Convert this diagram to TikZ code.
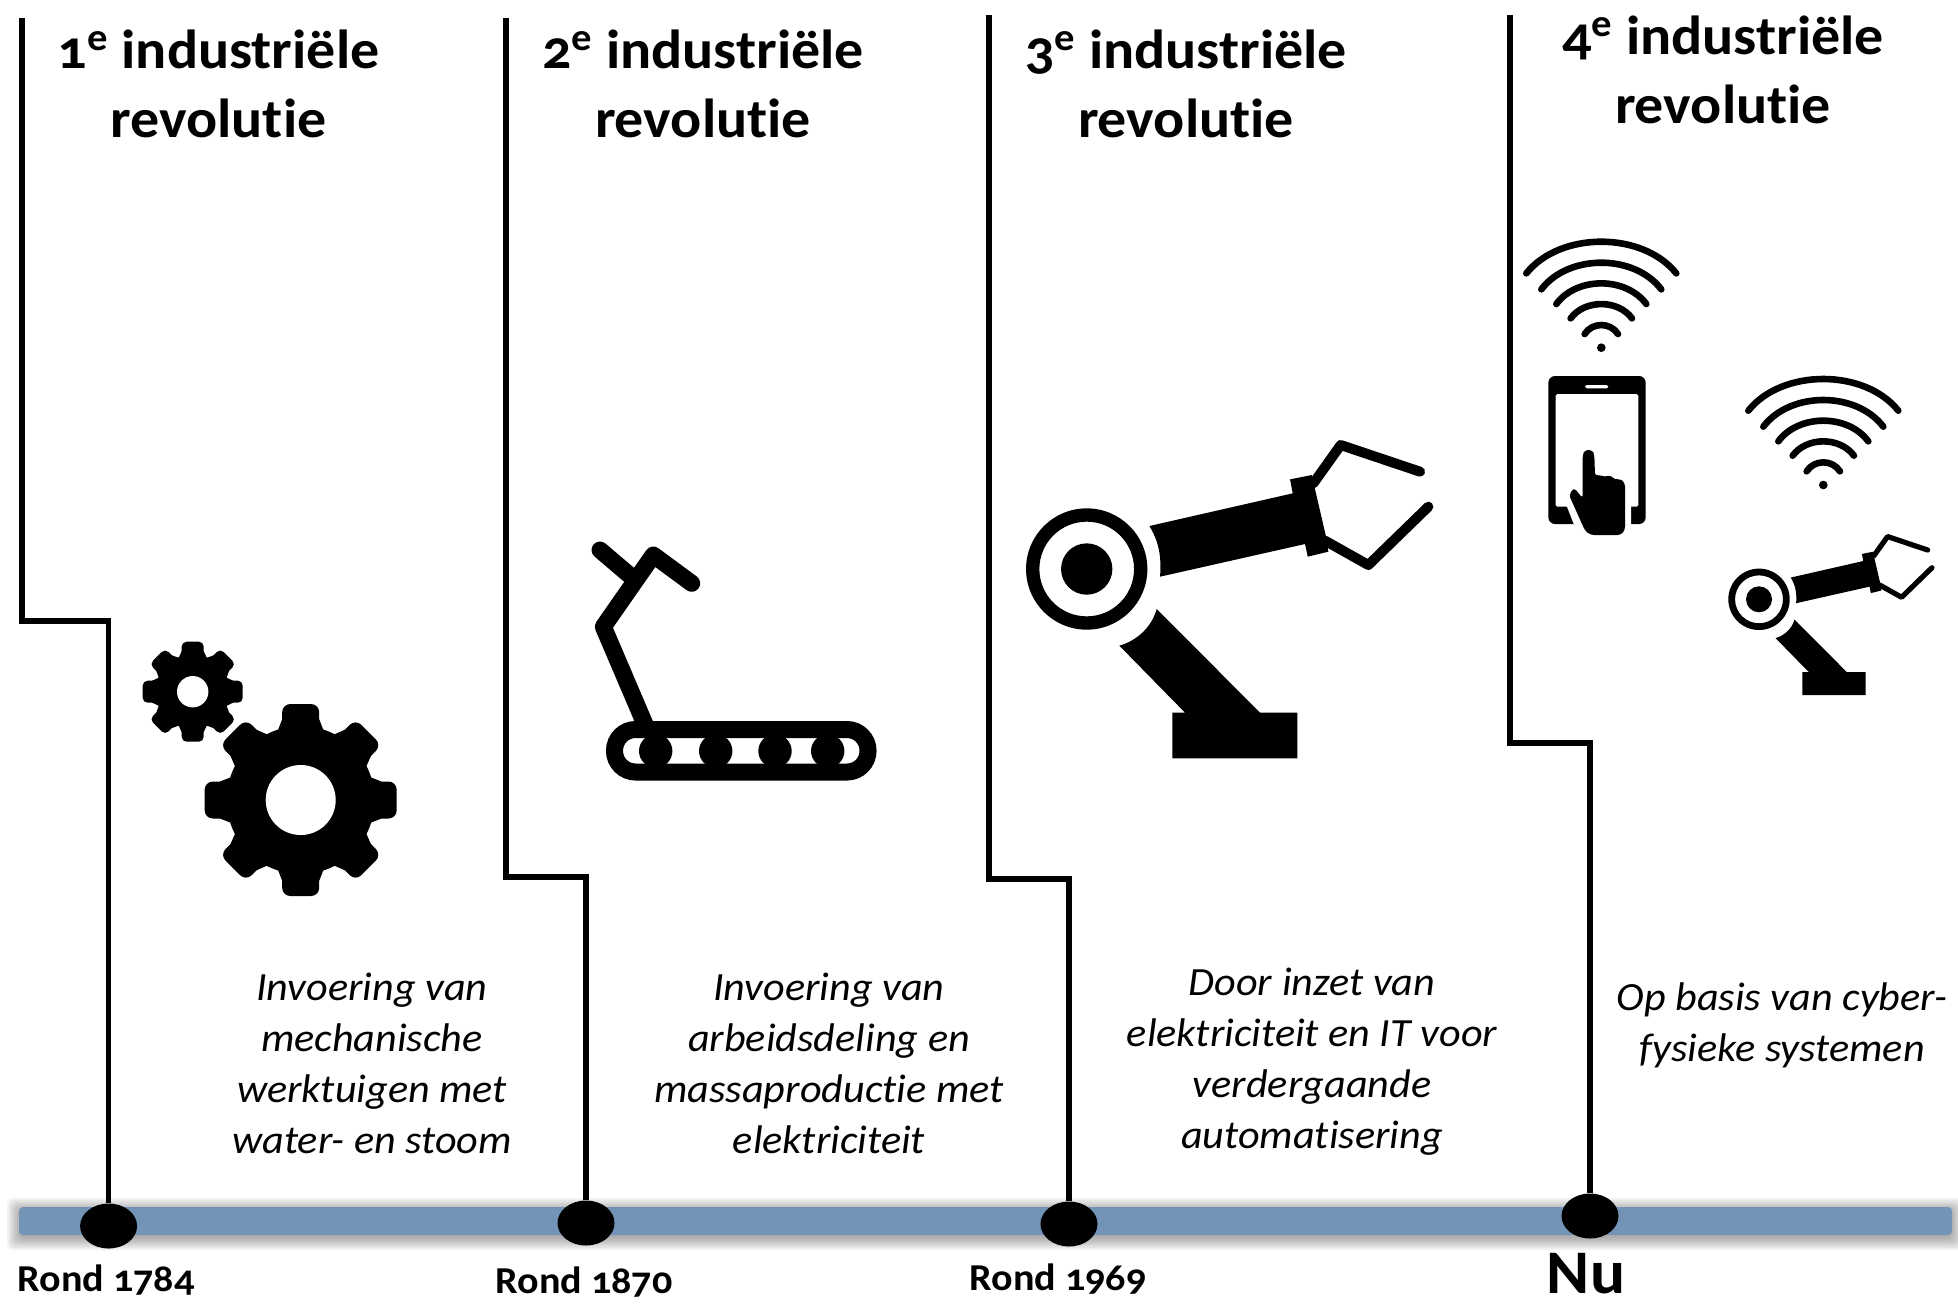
\documentclass[tikz,border=0pt]{standalone}
\usepackage{fontspec}
\setmainfont[Numbers=OldStyle,Ligatures={TeX,NoCommon},FakeStretch=1.055]{Carlito}
\definecolor{barblue}{HTML}{7393B7}
\tikzset{
  titletext/.style={inner sep=0pt,align=center,font=\fontsize{27.5}{34.3}\selectfont\bfseries},
  bodytext/.style={inner sep=0pt,align=center,font=\fontsize{20}{25.5}\selectfont\itshape},
  datetext/.style={inner sep=0pt,font=\fontsize{19}{22}\selectfont\bfseries},
  nowtext/.style={inner sep=0pt,font=\fontsize{31}{36}\selectfont\bfseries},
  stepline/.style={draw=black,line width=2.75pt,line join=miter},
  dotmark/.style={ellipse,fill=black,draw=none,minimum width=28.5pt,minimum height=22.5pt,inner sep=0pt},
}
\usetikzlibrary{shapes.geometric}
% gear: x y outer root toothwidth hole
\newcommand{\mygear}[6]{%
  \begin{scope}[shift={(#1,#2)}]
    \fill[black] (0,0) circle[radius=#4];
    \foreach \a in {0,45,...,315}{
      \begin{scope}[rotate=\a]
        \fill[black,rounded corners=#5*0.11pt] (-#5/2,-#3) rectangle (#5/2,0);
        \fill[black] (-#5*0.65,-#4*0.9) -- (#5*0.65,-#4*0.9) -- (#5/2,-#4-#3*0.07) -- (-#5/2,-#4-#3*0.07) -- cycle;
      \end{scope}
    }
    \fill[white] (0,0) circle[radius=#6];
  \end{scope}}
% robot: x y scale gripperwidth
\newcommand{\myrobot}[4]{%
  \begin{scope}[shift={(#1,#2)},scale=#3]
    \fill[black,even odd rule] (0,0) circle[radius=182] (0,0) circle[radius=142];
    \fill[black] (0,0) circle[radius=77];
    \fill[black] (188,-129) -- (618,-227) -- (610,-269) -- (675,-282) -- (718,-97) -- (725,-52) -- (663,-37) -- (655,-75) -- (220,23) .. controls (225,-40) and (215,-85) .. cycle;
    \fill[black] (210,120) -- (520,431) -- (632,431) -- (632,568) -- (257,568) -- (257,431) -- (295,431) -- (98,230) .. controls (150,215) and (195,175) .. cycle;
    \draw[black,line width=#4,line cap=round,line join=round] (680,-257) -- (762,-372) -- (1000,-292);
    \draw[black,line width=#4,line cap=round,line join=round] (715,-85) -- (845,-12) -- (1025,-187);
  \end{scope}}
% wifi: x y of the dot, in reference pixels
\newcommand{\mywifi}[2]{%
  \begin{scope}[shift={(#1,#2)},scale=1/3]
    \fill[black] (0,0) circle[radius=13];
    \foreach \aa/\cc/\yo/\yc in {225/124/-223/-349.7,180/99/-175/-281.7,135/74/-131/-213.7,92/50/-88/-145.3,50/27/-41/-77}{
      \draw[black,line width=3.3pt,line cap=round] (-\aa,\yo) .. controls (-\cc,\yc) and (\cc,\yc) .. (\aa,\yo);
    }
  \end{scope}}
\begin{document}
\begin{tikzpicture}[x=0.5pt,y=-0.5pt]
\useasboundingbox (0,0) rectangle (1958,1303);
\fill[white] (0,0) rectangle (1958,1303);
% bar with its soft shadow
\foreach \e in {12,10,8,6,4,2,0}{
  \fill[black,opacity=0.05,rounded corners=3pt] (19-\e,1207+3-\e) rectangle (1952+\e,1235+3+\e);
}
\fill[barblue,rounded corners=2pt] (19,1207) rectangle (1952,1235);
% dots
\node[dotmark] (d1) at (108.6,1226) {};
\node[dotmark] (d2) at (586,1223) {};
\node[dotmark] (d3) at (1069,1224) {};
\node[dotmark] (d4) at (1590,1216) {};
% stepped lines
\coordinate (t1) at (22,18);  \coordinate (f1) at (108.6,621);
\coordinate (t2) at (506,18); \coordinate (f2) at (586,877);
\coordinate (t3) at (989,15); \coordinate (f3) at (1069,879);
\coordinate (t4) at (1510,15);\coordinate (f4) at (1590,743);
\draw[stepline] (t1) |- (f1) -- (d1);
\draw[stepline] (t2) |- (f2) -- (d2);
\draw[stepline] (t3) |- (f3) -- (d3);
\draw[stepline] (t4) |- (f4) -- (d4);
% titles
\node[titletext] (title1) at (218.5,84) {1\textsuperscript{e} industriële\\revolutie};
\node[titletext] (title2) at (703,84) {2\textsuperscript{e} industriële\\revolutie};
\node[titletext] (title3) at (1186,84) {3\textsuperscript{e} industriële\\revolutie};
\node[titletext] (title4) at (1723,70) {4\textsuperscript{e} industriële\\revolutie};
% descriptions
\node[bodytext] (body1) at (372,1063) {Invoering van\\mechanische\\werktuigen met\\water- en stoom};
\node[bodytext] (body2) at (829,1063) {Invoering van\\arbeidsdeling en\\massaproductie met\\elektriciteit};
\node[bodytext] (body3) at (1312,1062) {Door inzet van\\elektriciteit en IT voor\\verdergaande\\automatisering};
\node[bodytext] (body4) at (1782,1025) {Op basis van cyber-\\fysieke systemen};
% dates
\node[datetext] (date1) at (106,1280) {Rond 1784};
\node[datetext] (date2) at (584,1282) {Rond 1870};
\node[datetext] (date3) at (1058,1279) {Rond 1969};
\node[nowtext] (date4) at (1586,1274) {Nu};
% gears
\mygear{300.7}{800}{96}{74}{37}{35}
\mygear{192.7}{691.7}{50}{37}{22}{15.7}
% treadmill
\begin{scope}
  \fill[black] (655.7,751) circle[radius=16.7];
  \fill[black] (715.7,751) circle[radius=16.7];
  \fill[black] (775,751) circle[radius=16.7];
  \fill[black] (827.7,751) circle[radius=16.7];
  \draw[black,line width=8.5pt,rounded corners=10.5pt] (614.5,729.5) rectangle (868,772);
  \draw[black,line width=8.5pt,line join=round,line cap=round] (647,729) -- (603.3,626.7) -- (653.3,555) -- (691.7,583.3);
  \draw[black,line width=8.5pt,line cap=round] (600,550) -- (631.7,577);
\end{scope}
% robots
\myrobot{1086.7}{569}{1/3}{5pt}
\myrobot{1759}{599.3}{0.1687}{2.6pt}
% wifi
\mywifi{1601.3}{347.7}
\mywifi{1823.3}{485}
% phone with hand
\begin{scope}[shift={(1500,220)},scale=1/3]
  \fill[black,rounded corners=3.3pt] (145,468) rectangle (437,912);
  \fill[white,rounded corners=0.8pt] (167,522) rectangle (415,860);
  \fill[white,rounded corners=0.8pt] (255,495) rectangle (325,505);
  \fill[white] (200,858) -- (222,914) -- (393,914) -- (393,858) -- cycle;
  \fill[black,rounded corners=1.6pt] (248,705) -- (254,690) -- (277,690) -- (283,705) -- (285,768) -- (300,764) -- (315,772) -- (330,764) -- (345,780) -- (362,776) -- (375,790) -- (375,930) -- (362,945) -- (272,945) -- (255,932) -- (207,825) -- (222,803) -- (248,835) -- cycle;
\end{scope}
\end{tikzpicture}
\end{document}
